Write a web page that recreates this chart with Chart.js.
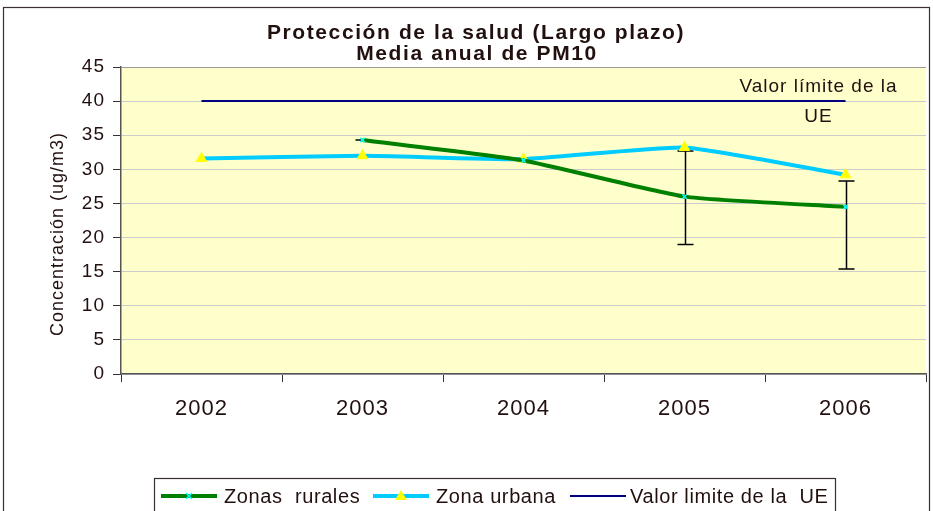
<!DOCTYPE html>
<html>
<head>
<meta charset="utf-8">
<script src="https://cdn.jsdelivr.net/npm/chart.js@4"></script>
<style>
  html, body { margin: 0; padding: 0; background: #fff; }
  canvas { display: block; }
</style>
</head>
<body>
<canvas id="pm10Chart" width="933" height="511"></canvas>
<script>
const years = ['2002', '2003', '2004', '2005', '2006'];
const rural = [null, 34.3, 31.3, 26.0, 24.5];
const urbana = [31.6, 32.0, 31.5, 33.2, 29.2];
const limite = [40, 40, 40, 40, 40];
const ruralHigh = [null, 34.3, 31.3, 32.7, 28.3];
const ruralLow = [null, 34.3, 31.3, 19.0, 15.4];
const yTicks = [0, 45, 5]; // min, max, step

const FONT = "'Liberation Sans', Arial, sans-serif";
const INK = '#22100f';

// fondo, marco, titulo y leyenda propios (estilo de la hoja original)
const decor = {
  id: 'decor',
  beforeDraw(chart) {
    const {ctx, chartArea: a} = chart;
    ctx.letterSpacing = '1px';
    ctx.save();
    ctx.fillStyle = '#FFFFCC';
    ctx.fillRect(a.left, a.top, a.right - a.left, a.bottom - a.top);
    ctx.restore();
  },
  beforeDatasetsDraw(chart) {
    const {ctx, scales: {x, y}} = chart;
    ctx.save();
    ctx.strokeStyle = '#000';
    ctx.lineWidth = 1.5;
    years.forEach((yr, i) => {
      if (ruralHigh[i] == null) return;
      const px = Math.round(x.getPixelForValue(i)) + 0.5;
      const hi = y.getPixelForValue(ruralHigh[i]);
      const lo = y.getPixelForValue(ruralLow[i]);
      ctx.beginPath();
      ctx.moveTo(px, hi); ctx.lineTo(px, lo);
      ctx.moveTo(px - 8, hi); ctx.lineTo(px + 8, hi);
      ctx.moveTo(px - 8, lo); ctx.lineTo(px + 8, lo);
      ctx.stroke();
    });
    ctx.restore();
  },
  afterDraw(chart) {
    const {ctx, chartArea: a, scales: {x, y}} = chart;
    ctx.save();
    // borde superior del area
    ctx.strokeStyle = '#9a9a9a';
    ctx.lineWidth = 1;
    ctx.beginPath();
    ctx.moveTo(a.left, a.top + 0.5); ctx.lineTo(a.right, a.top + 0.5);
    ctx.stroke();
    // marco exterior
    ctx.strokeStyle = '#3a3030';
    ctx.lineWidth = 1.2;
    ctx.strokeRect(3.5, 7.5, 926, 520);

    // titulo
    ctx.fillStyle = INK;
    ctx.textAlign = 'center';
    ctx.textBaseline = 'alphabetic';
    ctx.letterSpacing = '1.6px';
    ctx.font = 'bold 21px ' + FONT;
    ctx.fillText('Protección de la salud (Largo plazo)', 476, 39);
    ctx.fillText('Media anual de PM10', 477, 60);

    // titulo eje y
    ctx.textBaseline = 'middle';
    ctx.letterSpacing = '1px';
    ctx.font = '18px ' + FONT;
    ctx.save();
    ctx.translate(58, 234);
    ctx.rotate(-Math.PI / 2);
    ctx.fillText('Concentración (ug/m3)', 0, 0);
    ctx.restore();

    // etiqueta del valor limite
    ctx.font = '19px ' + FONT;
    const lx = x.getPixelForValue(years.length - 1) - 27;
    const ly = y.getPixelForValue(limite[limite.length - 1]);
    ctx.fillText('Valor límite de la', lx, ly - 14);
    ctx.fillText('UE', lx, ly + 16);

    // leyenda
    ctx.strokeStyle = '#3a3030';
    ctx.lineWidth = 1.2;
    ctx.strokeRect(154.5, 478.5, 681, 40);
    const lineX = [161, 373, 570];
    const textX = [224, 436, 630];
    const legY = 496;
    ctx.textAlign = 'left';
    ctx.font = '20px ' + FONT;
    ctx.letterSpacing = '0.6px';
    chart.data.datasets.forEach((ds, i) => {
      ctx.strokeStyle = ds.borderColor;
      ctx.lineWidth = ds.borderWidth;
      ctx.beginPath();
      ctx.moveTo(lineX[i], legY); ctx.lineTo(lineX[i] + 56, legY);
      ctx.stroke();
      const mx = lineX[i] + 28;
      if (ds.pointStyle === 'triangle') {
        ctx.fillStyle = '#FFFF00';
        ctx.beginPath();
        ctx.moveTo(mx, legY - 6); ctx.lineTo(mx + 6, legY + 4); ctx.lineTo(mx - 6, legY + 4);
        ctx.closePath(); ctx.fill();
      } else if (ds.pointStyle === 'crossRot') {
        ctx.strokeStyle = '#00FFFF';
        ctx.lineWidth = 1.5;
        ctx.beginPath();
        ctx.moveTo(mx - 3, legY - 3); ctx.lineTo(mx + 3, legY + 3);
        ctx.moveTo(mx + 3, legY - 3); ctx.lineTo(mx - 3, legY + 3);
        ctx.stroke();
      }
      ctx.fillStyle = INK;
      ctx.fillText(ds.label, textX[i], legY + 1);
    });
    ctx.restore();
  }
};

new Chart(document.getElementById('pm10Chart'), {
  type: 'line',
  data: {
    labels: years,
    datasets: [{
      label: 'Zonas  rurales',
      data: rural,
      borderColor: '#008000',
      borderWidth: 4,
      pointStyle: 'crossRot',
      pointRadius: 3,
      pointBorderColor: '#00FFFF',
      pointBackgroundColor: '#00FFFF',
      pointBorderWidth: 1.5,
      tension: 0.15
    }, {
      label: 'Zona urbana',
      data: urbana,
      borderColor: '#00CCFF',
      borderWidth: 4,
      pointStyle: 'triangle',
      pointRadius: 6,
      pointBorderColor: '#FFFF00',
      pointBackgroundColor: '#FFFF00',
      pointBorderWidth: 1,
      tension: 0.15
    }, {
      label: 'Valor limite de la  UE',
      data: limite,
      borderColor: '#000080',
      borderWidth: 2,
      pointRadius: 0,
      tension: 0
    }]
  },
  options: {
    responsive: false,
    animation: false,
    devicePixelRatio: 1,
    layout: { padding: { top: 67, left: 4, right: 3, bottom: 0 } },
    plugins: {
      legend: { display: false },
      tooltip: { enabled: false }
    },
    scales: {
      x: {
        offset: true,
        grid: { offset: true, drawOnChartArea: false, tickLength: 8, tickColor: '#333' },
        border: { color: '#555', width: 1.5 },
        ticks: { color: INK, font: { family: FONT, size: 22 }, padding: 14, maxRotation: 0 },
        afterFit(scale) { scale.height = 137; }
      },
      y: {
        min: yTicks[0],
        max: yTicks[1],
        grid: { color: '#cccccc', tickLength: 8, tickColor: '#333' },
        border: { color: '#555', width: 1.5 },
        ticks: { stepSize: yTicks[2], color: INK, font: { family: FONT, size: 19 }, padding: 8 },
        afterFit(scale) { scale.width = 117; }
      }
    }
  },
  plugins: [decor]
});
</script>
</body>
</html>
